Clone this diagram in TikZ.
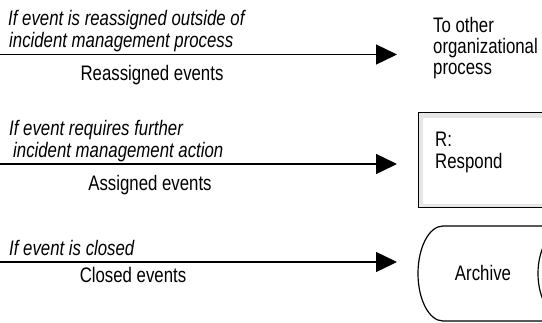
\documentclass[tikz,border=0pt]{standalone}
\usepackage{fontspec}
\setmainfont[FakeStretch=0.8]{Liberation Sans}
\usetikzlibrary{arrows.meta}
\definecolor{bandgray}{HTML}{E6E6E6}
\begin{document}
\begin{tikzpicture}[x=1pt,y=-1pt,
  flow/.style={line width=1.4pt,-{Triangle[length=21pt,width=20pt]}},
  cond/.style={font=\fontsize{21}{22}\selectfont\itshape, anchor=base west, inner sep=0pt},
  lbl/.style={font=\fontsize{21}{22}\selectfont, anchor=base, inner sep=0pt},
  txt/.style={font=\fontsize{21}{22}\selectfont, anchor=base west, inner sep=0pt}]
\useasboundingbox (0,0) rectangle (542,322);

% start points of the three event flows
\coordinate (s1) at (0,54.5);
\coordinate (s2) at (0,164);
\coordinate (s3) at (0,262);

% destination: other process
\node[txt] (other) at (433,32) {To other};
\node[txt] (other2) at (433,53) {organizational};
\node[txt] (other3) at (433,74) {process};

% destination: respond step
\node[draw, line width=1.4pt, fill=bandgray, minimum width=170pt, minimum height=95pt,
      anchor=north west, inner sep=0pt] (respond) at (418,112) {};
\fill[white] (423,118) rectangle (585,204);
\node[txt] (rlabel) at (435,146) {R:};
\node[txt] (rlabel2) at (435,168) {Respond};

% destination: archive store
\draw[line width=1.2pt] (600,226) -- (443,226)
  arc[start angle=-90, end angle=-270, x radius=25, y radius=47.5] -- (600,321);
\draw[line width=1.2pt] (568,226)
  arc[start angle=-90, end angle=-270, x radius=30, y radius=47.5];
\node[lbl] (archive) at (483,280) {Archive};

% flows with their conditions and labels
\draw[flow] (s1) -- ([xshift=-36pt]s1 -| other.west) coordinate (e1);
\node[cond] (c1a) at (8,25) {If event is reassigned outside of};
\node[cond] (c1b) at (9,47) {incident management process};
\node[lbl] (l1) at (152,80) {Reassigned events};

\draw[flow] (s2) -- ([xshift=-21pt]s2 -| respond.west) coordinate (e2);
\node[cond] (c2a) at (9,135) {If event requires further};
\node[cond] (c2b) at (13,157) {incident management action};
\node[lbl] (l2) at (150,190) {Assigned events};

\draw[flow] (s3) -- ([xshift=-21pt]s3 -| respond.west) coordinate (e3);
\node[cond] (c3a) at (9,255) {If event is closed};
\node[lbl] (l3) at (133,282) {Closed events};
\end{tikzpicture}
\end{document}
